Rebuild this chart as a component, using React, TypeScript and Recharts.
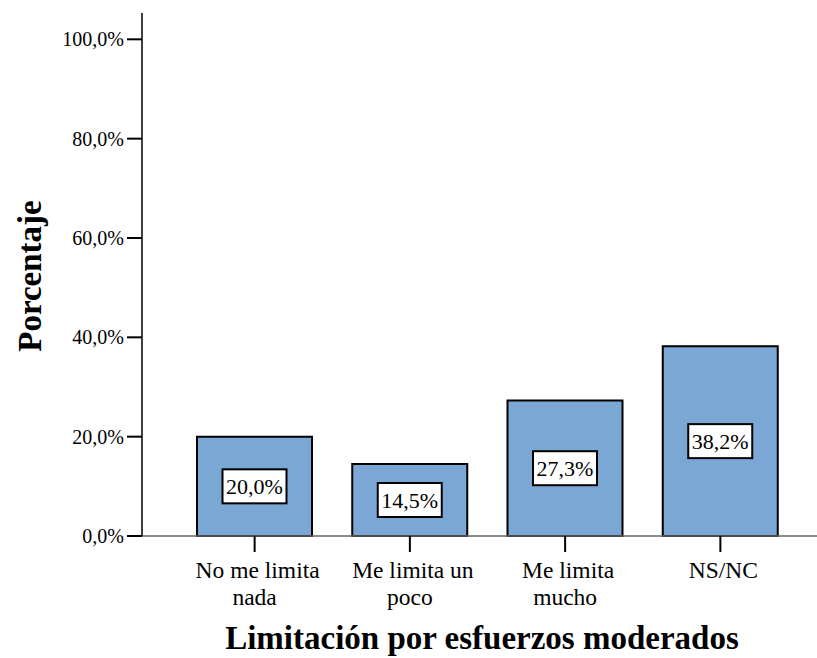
import React from 'react';
import { BarChart, Bar, XAxis, YAxis, LabelList, Label } from 'recharts';

const categories = ['No me limita\nnada', 'Me limita un\npoco', 'Me limita\nmucho', 'NS/NC'];
const values = [20.0, 14.5, 27.3, 38.2];
const yTicks = [0, 20, 40, 60, 80, 100];

const data = categories.map((c, i) => ({ name: c, value: values[i] }));

const FONT = 'Liberation Serif, Times New Roman, DejaVu Serif, serif';
const fontStyle = { fontFamily: FONT };
const fmt = (v: number) => v.toFixed(1).replace('.', ',') + '%';

const XTick = (props: any) => {
  const { x, y, payload } = props;
  const lines = String(payload.value).split('\n');
  return (
    <g>
      {lines.map((l: string, i: number) => (
        <text
          key={i}
          x={x}
          y={y + 24 + i * 27}
          dx={i === 0 ? 3 : 0}
          textAnchor="middle"
          style={fontStyle}
          fontSize={23.5}
          fill="#000"
        >
          {l}
        </text>
      ))}
    </g>
  );
};

const YTick = (props: any) => {
  const { x, y, payload } = props;
  return (
    <text x={x} y={y + 7} textAnchor="end" style={fontStyle} fontSize={20} fill="#000">
      {fmt(payload.value)}
    </text>
  );
};

const BoxLabel = (props: any) => {
  const { x, y, width, height, value } = props;
  const cx = x + width / 2;
  const cy = y + height / 2;
  const w = 64;
  const h = 34;
  return (
    <g>
      <rect x={cx - w / 2} y={cy - h / 2} width={w} height={h} fill="#fff" stroke="#000" strokeWidth={2} />
      <text x={cx} y={cy + 8} textAnchor="middle" style={fontStyle} fontSize={22} fill="#000">
        {fmt(value)}
      </text>
    </g>
  );
};

export default function App() {
  return (
    <div style={{ position: 'absolute', left: 0, top: 0, width: 817, height: 658, background: '#fff', fontFamily: FONT }}>
      <BarChart width={817} height={658} data={data} margin={{ top: 13, right: 0, left: 0, bottom: 0 }} style={fontStyle}>
        <XAxis
          dataKey="name"
          interval={0}
          padding={{ left: 35, right: 19 }}
          height={122}
          tickSize={16}
          tickLine={{ stroke: '#000', strokeWidth: 2 }}
          axisLine={{ stroke: '#666', strokeWidth: 1.5 }}
          tick={<XTick />}
        >
          <Label
            content={() => (
              <text x={482} y={649} textAnchor="middle" style={fontStyle} fontSize={33} fontWeight="bold" fill="#000">
                Limitación por esfuerzos moderados
              </text>
            )}
          />
        </XAxis>
        <YAxis
          width={142}
          domain={[0, 105.3]}
          ticks={yTicks}
          interval={0}
          tickSize={15}
          tickMargin={3}
          tickLine={{ stroke: '#000', strokeWidth: 2 }}
          axisLine={{ stroke: '#000', strokeWidth: 1.5 }}
          tick={<YTick />}
        >
          <Label
            content={() => (
              <text
                transform="translate(41,276) rotate(-90)"
                textAnchor="middle"
                style={fontStyle}
                fontSize={33}
                fontWeight="bold"
                fill="#000"
              >
                Porcentaje
              </text>
            )}
          />
        </YAxis>
        <Bar dataKey="value" barSize={115} fill="#7ba7d4" stroke="#000" strokeWidth={2} isAnimationActive={false}>
          <LabelList dataKey="value" content={<BoxLabel />} />
        </Bar>
      </BarChart>
    </div>
  );
}
